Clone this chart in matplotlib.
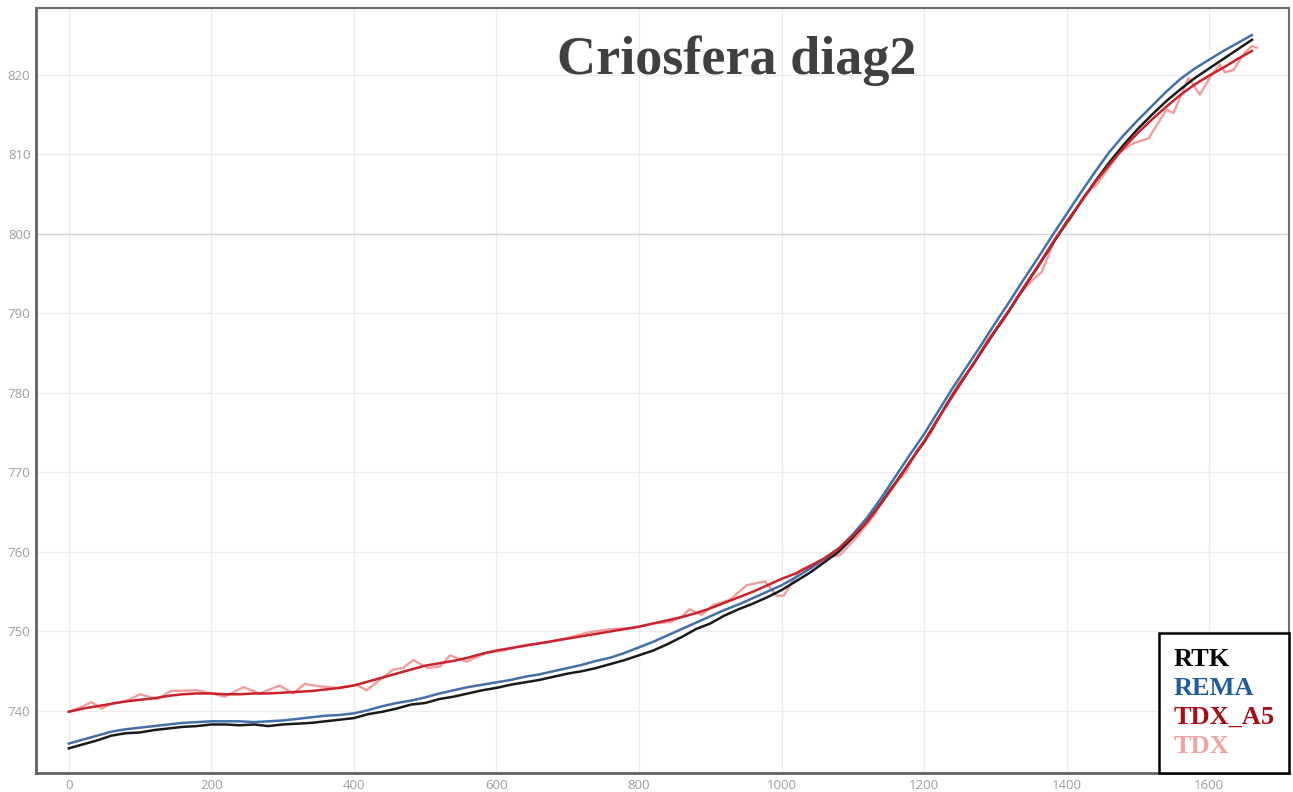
import matplotlib
matplotlib.use("Agg")
import matplotlib.pyplot as plt

# sampling positions along the profile (every 20 units)
dist = list(range(0, 1680, 20))

rtk = [735.3, 735.8, 736.3, 736.9, 737.2, 737.3, 737.6, 737.8, 738.0, 738.1,
       738.3, 738.3, 738.2, 738.3, 738.1, 738.3, 738.4, 738.5, 738.7, 738.9,
       739.1, 739.6, 739.9, 740.3, 740.8, 741.0, 741.5, 741.8, 742.2, 742.6,
       742.9, 743.3, 743.6, 743.9, 744.3, 744.7, 745.0, 745.4, 745.9, 746.4,
       747.0, 747.6, 748.4, 749.3, 750.3, 751.0, 752.0, 752.8, 753.5, 754.3,
       755.2, 756.3, 757.4, 758.7, 760.0, 761.8, 763.8, 766.2, 768.7, 771.3,
       773.8, 776.8, 779.7, 782.4, 785.1, 787.8, 790.4, 793.2, 795.9, 798.7,
       801.4, 804.0, 806.6, 809.0, 811.2, 813.2, 815.0, 816.7, 818.2, 819.6,
       820.8, 822.0, 823.2, 824.4]

rema = [735.9, 736.4, 736.9, 737.4, 737.7, 737.9, 738.1, 738.3, 738.5, 738.6,
        738.7, 738.7, 738.7, 738.6, 738.7, 738.8, 739.0, 739.2, 739.4, 739.5,
        739.7, 740.1, 740.6, 741.0, 741.3, 741.7, 742.2, 742.6, 743.0, 743.3,
        743.6, 743.9, 744.3, 744.6, 745.0, 745.4, 745.8, 746.3, 746.7, 747.3,
        748.0, 748.7, 749.5, 750.3, 751.1, 751.9, 752.7, 753.4, 754.2, 755.0,
        755.8, 756.8, 757.9, 759.1, 760.4, 762.2, 764.3, 766.8, 769.5, 772.2,
        774.8, 777.7, 780.6, 783.3, 786.0, 788.8, 791.5, 794.3, 797.0, 799.8,
        802.5, 805.2, 807.8, 810.3, 812.4, 814.3, 816.1, 817.9, 819.5, 820.8,
        821.9, 823.0, 824.0, 825.0]

tdx_a5 = [739.9, 740.3, 740.6, 740.9, 741.2, 741.4, 741.6, 741.9, 742.1, 742.2,
          742.2, 742.1, 742.1, 742.2, 742.2, 742.3, 742.4, 742.5, 742.7, 742.9,
          743.2, 743.7, 744.2, 744.7, 745.2, 745.7, 746.0, 746.3, 746.7, 747.2,
          747.6, 747.9, 748.2, 748.5, 748.8, 749.1, 749.4, 749.7, 750.0, 750.3,
          750.6, 751.0, 751.4, 751.8, 752.3, 752.9, 753.6, 754.3, 755.0, 755.8,
          756.6, 757.3, 758.2, 759.2, 760.4, 762.0, 763.8, 766.1, 768.6, 771.3,
          773.9, 776.8, 779.6, 782.4, 785.2, 787.9, 790.5, 793.3, 796.0, 798.8,
          801.5, 804.0, 806.5, 808.7, 810.8, 812.7, 814.4, 816.0, 817.5, 818.8,
          819.9, 820.9, 822.0, 823.0]

# raw TDX samples are irregularly spaced
tdx_dist = [0, 15, 32, 46, 62, 80, 100, 124, 143, 180, 200, 219, 245, 268,
            296, 315, 331, 352, 375, 404, 418, 455, 469, 483, 504, 521, 535,
            558, 586, 610, 640, 670, 700, 730, 760, 790, 820, 845, 862, 871,
            888, 904, 928, 951, 977, 993, 1003, 1026, 1045, 1065, 1082, 1106,
            1130, 1150, 1175, 1190, 1210, 1230, 1250, 1270, 1290, 1310, 1330,
            1350, 1365, 1385, 1405, 1425, 1442, 1460, 1475, 1494, 1515, 1540,
            1550, 1571, 1587, 1600, 1615, 1622, 1634, 1650, 1660, 1667]
tdx = [739.9, 740.4, 741.1, 740.3, 741.0, 741.2, 742.1, 741.5, 742.5, 742.6,
       742.2, 741.8, 743.0, 742.2, 743.2, 742.2, 743.4, 743.1, 742.9, 743.3,
       742.6, 745.2, 745.4, 746.4, 745.4, 745.6, 747.0, 746.2, 747.3, 747.6,
       748.3, 748.6, 749.2, 749.9, 750.3, 750.4, 751.0, 751.2, 752.0, 752.8,
       752.1, 753.3, 754.0, 755.8, 756.3, 754.5, 754.5, 757.7, 758.5, 759.3,
       759.6, 761.9, 764.6, 767.7, 770.1, 772.8, 775.0, 778.4, 781.4, 783.6,
       786.8, 789.0, 792.0, 794.0, 795.2, 799.6, 801.8, 804.9, 806.2, 808.4,
       810.3, 811.4, 812.0, 815.6, 815.2, 819.6, 817.5, 819.5, 821.3, 820.3,
       820.6, 822.8, 823.6, 823.4]

fig = plt.figure(figsize=(12.93, 7.92), dpi=100)
ax = fig.add_axes([0.0278, 0.024, 0.9691, 0.9659])

ax.plot(tdx_dist, tdx, color="#f08c8c", lw=1.7, alpha=0.85, label="TDX", zorder=2)
ax.plot(dist, rema, color="#4470a8", lw=1.8, label="REMA", zorder=3)
ax.plot(dist, rtk, color="#1a1a1a", lw=1.8, label="RTK", zorder=4)
ax.plot(dist, tdx_a5, color="#c8222a", lw=1.8, label="TDX_A5", zorder=5)

ax.set_xlim(-46, 1712)
ax.set_ylim(732.2, 828.4)
ax.set_xticks(range(0, 1700, 200))
ax.set_yticks(range(740, 830, 10))

ax.grid(True, color="#ececec", lw=1.0, zorder=0)
ax.axhline(800, color="#d4d4d4", lw=1.0, zorder=1)
ax.set_axisbelow(True)

for side in ["top", "right"]:
    ax.spines[side].set_color("#6e6e6e")
    ax.spines[side].set_linewidth(1.5)
for side in ["left", "bottom"]:
    ax.spines[side].set_color("#606060")
    ax.spines[side].set_linewidth(2.0)

ax.tick_params(length=0, pad=4, labelsize=9.5, labelcolor="#9e9e9e")
for lbl in ax.get_xticklabels() + ax.get_yticklabels():
    lbl.set_family("Open Sans")

fig.text(0.570, 0.9066, "Criosfera diag2", ha="center", va="baseline",
         family="Liberation Serif", fontweight="bold", fontsize=39,
         color="#404040")

# legend with text only, coloured per series
order = ["RTK", "REMA", "TDX_A5", "TDX"]
text_colors = ["#000000", "#1f5c9a", "#a50f15", "#f0a3a3"]
handles = {h.get_label(): h for h in ax.get_lines()}
leg = ax.legend([handles[k] for k in order], order, loc="lower right",
                bbox_to_anchor=(1.0, 0.0), borderaxespad=0.0,
                handlelength=0, handletextpad=0, labelcolor=text_colors,
                prop={"family": "Liberation Serif", "weight": "bold", "size": 19},
                fancybox=False, framealpha=1, edgecolor="black",
                borderpad=0.55, labelspacing=0.22)
leg.get_frame().set_linewidth(1.8)
for h in leg.legend_handles:
    h.set_visible(False)

fig.savefig("out.png", dpi=100)
